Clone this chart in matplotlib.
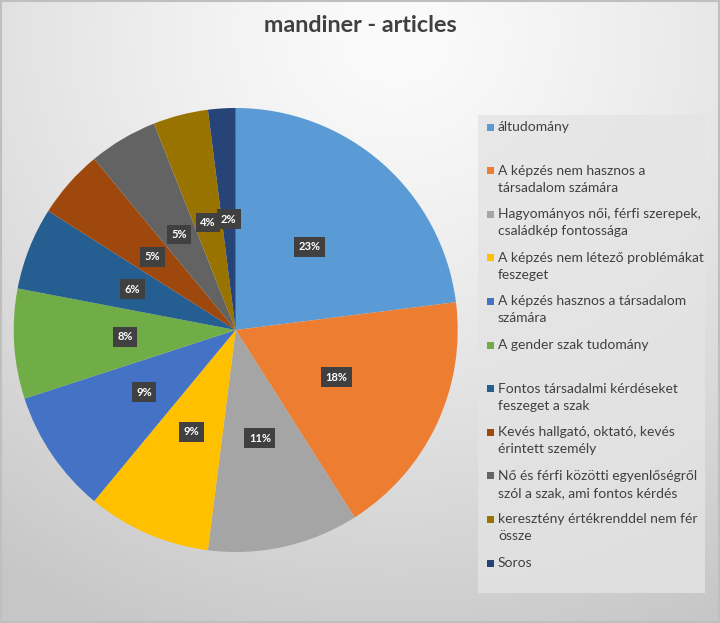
"""
Kördiagram: mandiner - articles.
"""

import numpy as np
import matplotlib
matplotlib.use('Agg')
import matplotlib.pyplot as plt
from matplotlib.patches import Rectangle

plt.rcParams['font.family'] = ['Lato', 'DejaVu Sans']

# Adatok
kategoriak = [
    'áltudomány',
    'A képzés nem hasznos a\ntársadalom számára',
    'Hagyományos női, férfi szerepek,\ncsaládkép fontossága',
    'A képzés nem létező problémákat\nfeszeget',
    'A képzés hasznos a társadalom\nszámára',
    'A gender szak tudomány',
    'Fontos társadalmi kérdéseket\nfeszeget a szak',
    'Kevés hallgató, oktató, kevés\nérintett személy',
    'Nő és férfi közötti egyenlőségről\nszól a szak, ami fontos kérdés',
    'keresztény értékrenddel nem fér\nössze',
    'Soros',
]
ertekek = [23, 18, 11, 9, 9, 8, 6, 5, 5, 4, 2]
szinek = ['#5B9BD5', '#ED7D31', '#A5A5A5', '#FFC000', '#4472C4', '#70AD47',
          '#255E91', '#9E480E', '#636363', '#997300', '#264478']
cim = 'mandiner - articles'

W, H = 720, 623
fig = plt.figure(figsize=(W / 100, H / 100), dpi=100)

# Háttér: radiális szürke színátmenet
bg = fig.add_axes([0, 0, 1, 1], zorder=0)
yy, xx = np.mgrid[0:1:300j, 0:1:300j]
d = np.sqrt(((xx - 0.55) / 0.95) ** 2 + ((yy - 0.05) / 1.05) ** 2)
d = np.clip(d, 0, 1)
c0, c1 = 0.985, 0.78
img = c0 + (c1 - c0) * d ** 1.3
bg.imshow(np.dstack([img, img, img]), extent=[0, 1, 0, 1], origin='upper',
          aspect='auto', interpolation='bilinear')
bg.add_patch(Rectangle((0.001, 0.001), 0.998, 0.998, fill=False,
                       edgecolor='#bfbfbf', linewidth=1.5, transform=bg.transAxes))
bg.set_xlim(0, 1)
bg.set_ylim(0, 1)
bg.axis('off')

# Kördiagram
cx, cy, r = 235.7, H - 330, 222
ax = fig.add_axes([(cx - r) / W, (cy - r) / H, 2 * r / W, 2 * r / H], zorder=2)
wedges, texts, autotexts = ax.pie(
    ertekek, colors=szinek, startangle=90, counterclock=False,
    autopct='%1.0f%%', pctdistance=0.5, radius=1,
    wedgeprops=dict(linewidth=0),
    textprops=dict(color='white', fontsize=8, fontweight='bold'))
for t in autotexts:
    t.set_bbox(dict(boxstyle='square,pad=0.4', facecolor='#404040',
                    edgecolor='none'))
ax.set_xlim(-1, 1)
ax.set_ylim(-1, 1)
ax.set_aspect('auto')
ax.axis('off')

# Cím
fig.text(360 / W, 1 - 25 / H, cim, ha='center', va='center',
         fontsize=16.8, fontweight='bold', color='#404040')

# Jelmagyarázat
fig.patches.append(Rectangle((478 / W, 1 - 593 / H), (705 - 478) / W, (593 - 115) / H,
                             transform=fig.transFigure, facecolor='#e4e4e4',
                             edgecolor='none', alpha=0.8, zorder=1))
for i, (nev, szin) in enumerate(zip(kategoriak, szinek)):
    y = 127 + 43.6 * i
    fig.patches.append(Rectangle((487 / W, 1 - (y + 3.5) / H), 7 / W, 7 / H,
                                 transform=fig.transFigure, facecolor=szin,
                                 edgecolor='none', zorder=3))
    fig.text(498 / W, 1 - (y - 6) / H, nev, ha='left', va='top',
             fontsize=10, color='#404040', linespacing=1.5, zorder=3)

fig.savefig('out.png', dpi=100)
